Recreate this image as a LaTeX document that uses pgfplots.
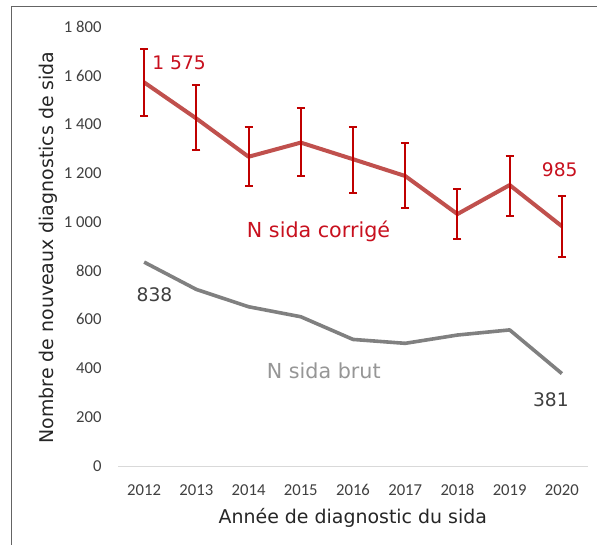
\documentclass[border=0pt]{standalone}
\usepackage{fontspec}
\setmainfont{DejaVu Sans}
\newfontfamily\carlito{Carlito}
\usepackage{pgfplots}
\usepackage{pgfplotstable}
\pgfplotsset{compat=1.18}
\definecolor{redline}{RGB}{192,80,77}
\definecolor{redbar}{RGB}{192,0,0}
\definecolor{redtext}{RGB}{200,16,30}
\definecolor{grayline}{RGB}{128,128,128}
\definecolor{graytext}{RGB}{150,150,150}
\definecolor{darktext}{RGB}{64,64,64}
\definecolor{ticktext}{RGB}{64,64,64}
\definecolor{axisgray}{RGB}{217,217,217}
\definecolor{framegray}{RGB}{100,100,100}

\pgfplotstableread{
x    y     ep   em
2012 1575  135  138
2013 1427  137  129
2014 1270  123  120
2015 1328  141  137
2016 1260  133  137
2017 1191  134  132
2018 1035  102  103
2019 1154  119  127
2020 985   124  125
}\corrige

\pgfplotstableread{
x    y
2012 838
2013 726
2014 655
2015 614
2016 521
2017 505
2018 539
2019 560
2020 381
}\brut

\begin{document}
\begin{tikzpicture}
\useasboundingbox (0,0) rectangle (447.75pt,408.75pt);
\fill[white] (0,0) rectangle (447.75pt,408.75pt);
\draw[framegray, line width=1pt] (8.625pt,0) -- (8.625pt,403.65pt) -- (447.75pt,403.65pt);
\begin{axis}[
  at={(88.5pt,58.875pt)}, anchor=south west,
  scale only axis, width=352.5pt, height=329.25pt,
  xmin=2011.5, xmax=2020.5, ymin=0, ymax=1800,
  axis x line*=bottom, axis y line*=left,
  x axis line style={draw=axisgray, line width=0.8pt, -},
  y axis line style={draw=none, -},
  xtick={2012,2013,2014,2015,2016,2017,2018,2019,2020},
  xticklabels={2012,2013,2014,2015,2016,2017,2018,2019,2020},
  ytick={0,200,400,600,800,1000,1200,1400,1600,1800},
  yticklabels={0,200,400,600,800,1 000,1 200,1 400,1 600,1 800},
  major tick length=0pt,
  tick style={draw=none},
  xticklabel style={font=\carlito\fontsize{12.5pt}{14pt}\selectfont, color=ticktext, anchor=base, inner sep=0pt, yshift=-21.4pt},
  yticklabel style={font=\carlito\fontsize{12.5pt}{14pt}\selectfont, color=ticktext, anchor=base east, inner sep=0pt, xshift=-12.2pt, yshift=-3.6pt},
  clip=false,
]
\addplot[grayline, line width=2.7pt, mark=none, line join=round] table[x=x, y=y] {\brut};
\addplot[redline, line width=3pt, mark=none, line join=round] table[x=x, y=y] {\corrige};
\addplot[draw=none, mark=none, forget plot,
  error bars/.cd, y dir=both, y explicit,
  error bar style={draw=redbar, line width=1.5pt},
  error mark options={rotate=90, draw=redbar, mark size=3pt, line width=1.5pt}]
  table[x=x, y=y, y error plus=ep, y error minus=em] {\corrige};

\node[anchor=base, text=redtext, font=\fontsize{15.5pt}{18pt}\selectfont] at (axis cs:2015.34,939.7) {N sida corrigé};
\node[anchor=base, text=graytext, font=\fontsize{15.5pt}{18pt}\selectfont] at (axis cs:2015.44,361.6) {N sida brut};
\node[anchor=base, text=darktext, font=\fontsize{14pt}{17pt}\selectfont] at (axis cs:2012.20,675.7) {838};
\node[anchor=base, text=darktext, font=\fontsize{14pt}{17pt}\selectfont] at (axis cs:2019.79,248) {381};
\node[anchor=base, text=redtext, font=\fontsize{14pt}{17pt}\selectfont] at (axis cs:2012.67,1628.5) {1 575};
\node[anchor=base, text=redtext, font=\fontsize{14pt}{17pt}\selectfont] at (axis cs:2019.96,1191) {985};
\end{axis}
\node[anchor=base, text=black!85, font=\fontsize{14.2pt}{17pt}\selectfont] at (264.6pt,16.3pt) {Année de diagnostic du sida};
\node[anchor=base, rotate=90, text=black!85, font=\fontsize{14.2pt}{17pt}\selectfont] at (40pt,223.1pt) {Nombre de nouveaux diagnostics de sida};
\end{tikzpicture}
\end{document}
